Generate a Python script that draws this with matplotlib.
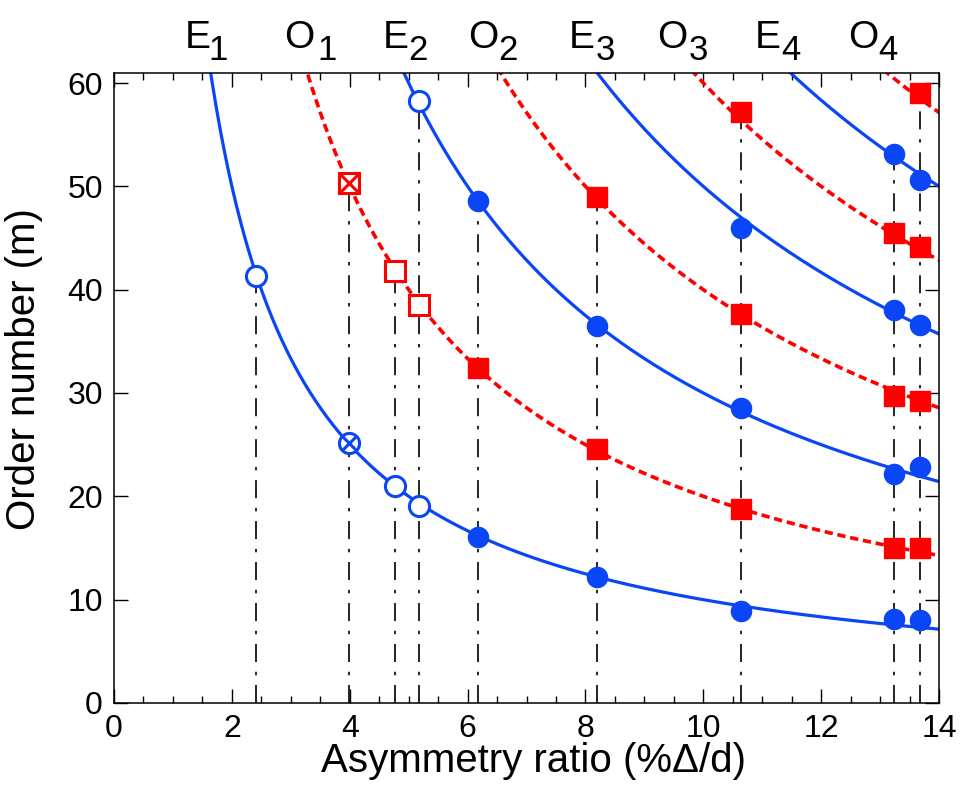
import numpy as np
import matplotlib
matplotlib.use("Agg")
import matplotlib.pyplot as plt
import matplotlib.transforms as mtransforms

plt.rcParams['font.family'] = ['Liberation Sans', 'DejaVu Sans']
plt.rcParams['lines.scale_dashes'] = False

# measured asymmetry ratios (vertical guide lines)
x_ratio = [2.41, 3.99, 4.77, 5.17, 6.17, 8.19, 10.64, 13.24, 13.68]

# fitted curves m = c / x  (E: blue solid, O: red dashed)
e_consts = [100, 300, 500, 700]
o_consts = [200, 400, 600, 800]

# blue points (E modes)
e_open_x = [2.41, 4.77, 5.17, 5.17]
e_open_y = [41.35, 21.0, 19.1, 58.3]
e_cross_x = [3.99]
e_cross_y = [25.2]
e_fill_x = [6.17, 6.17, 8.19, 8.19, 10.64, 10.64, 10.64,
            13.24, 13.24, 13.24, 13.24, 13.68, 13.68, 13.68, 13.68]
e_fill_y = [16.1, 48.6, 12.2, 36.5, 8.9, 28.5, 46.0,
            8.1, 22.2, 38.0, 53.1, 8.0, 22.8, 36.6, 50.6]

# red points (O modes)
o_open_x = [4.77, 5.17]
o_open_y = [41.8, 38.5]
o_cross_x = [3.99]
o_cross_y = [50.3]
o_fill_x = [6.17, 8.19, 8.19, 10.64, 10.64, 10.64,
            13.24, 13.24, 13.24, 13.68, 13.68, 13.68, 13.68]
o_fill_y = [32.4, 24.6, 49.0, 18.8, 37.6, 57.2,
            15.0, 29.7, 45.5, 15.0, 29.2, 44.1, 59.0]

# band labels on top
top_letters = ['E', 'O', 'E', 'O', 'E', 'O', 'E', 'O']
top_digits = ['1', '1', '2', '2', '3', '3', '4', '4']
top_letter_x = [1.42, 3.135, 4.775, 6.26, 7.93, 9.465, 11.10, 12.72]
top_digit_x = [1.77, 3.62, 5.15, 6.68, 8.33, 9.91, 11.49, 13.14]

blue = '#0a46f5'
red = '#ff0000'

fig = plt.figure(figsize=(9.63, 7.89), dpi=100)
ax = fig.add_subplot(111)
fig.subplots_adjust(left=0.1184, right=0.9751, bottom=0.109, top=0.9079)

# vertical dash-dot guides up to highest point at each x
all_x = e_open_x + e_cross_x + e_fill_x + o_open_x + o_cross_x + o_fill_x
all_y = e_open_y + e_cross_y + e_fill_y + o_open_y + o_cross_y + o_fill_y
for xv in x_ratio:
    top = max(y for x, y in zip(all_x, all_y) if x == xv)
    ax.plot([xv, xv], [0, top], color='black', lw=1.2,
            linestyle=(0, (13, 7, 2.5, 7)), zorder=1)

xx = np.linspace(0.5, 14.2, 600)
for c in e_consts:
    ax.plot(xx, c / xx, color=blue, lw=2.3, zorder=2)
for c in o_consts:
    ax.plot(xx, c / xx, color=red, lw=2.6, linestyle=(0, (6, 3.4)), zorder=2)

ms = 14.5
# blue markers
ax.plot(e_fill_x, e_fill_y, 'o', color=blue, ms=ms, zorder=4)
ax.plot(e_open_x, e_open_y, 'o', mfc='white', mec=blue, mew=2.2, ms=ms, zorder=4)
ax.plot(e_cross_x, e_cross_y, 'o', mfc='white', mec=blue, mew=2.2, ms=ms, zorder=4)
ax.plot(e_cross_x, e_cross_y, 'x', mec=blue, mew=2.2, ms=ms * 0.72, zorder=5)
# red markers
ax.plot(o_fill_x, o_fill_y, 's', color=red, ms=ms, zorder=4)
ax.plot(o_open_x, o_open_y, 's', mfc='white', mec=red, mew=2.2, ms=ms, zorder=4)
ax.plot(o_cross_x, o_cross_y, 's', mfc='white', mec=red, mew=2.2, ms=ms, zorder=4)
ax.plot(o_cross_x, o_cross_y, 'x', mec=red, mew=2.2, ms=ms, zorder=5)

ax.set_xlim(0, 14)
ax.set_ylim(0, 61)
ax.set_xticks(np.arange(0, 15, 2))
ax.set_xticks(np.arange(0, 14.01, 0.5), minor=True)
ax.set_yticks(np.arange(0, 61, 10))
ax.tick_params(which='both', direction='in', top=True, right=True,
               labelsize=23, width=1.0)
ax.tick_params(which='major', length=10, pad=8)
ax.tick_params(which='minor', length=5)
for sp in ax.spines.values():
    sp.set_linewidth(1.1)

ax.set_xlabel('Asymmetry ratio (%\u0394/d)', fontsize=29)
ax.set_ylabel('Order number (m)', fontsize=29)
ax.xaxis.set_label_coords(0.509, -0.062)
ax.yaxis.set_label_coords(-0.086, 0.529)

trans = mtransforms.blended_transform_factory(ax.transData, ax.transAxes)
for let, dig, lx, dx in zip(top_letters, top_digits, top_letter_x, top_digit_x):
    ax.text(lx, 1.039, let, transform=trans, ha='center', va='baseline', fontsize=28)
    ax.text(dx, 1.020, dig, transform=trans, ha='center', va='baseline', fontsize=25)

fig.savefig('out.png', dpi=100)
